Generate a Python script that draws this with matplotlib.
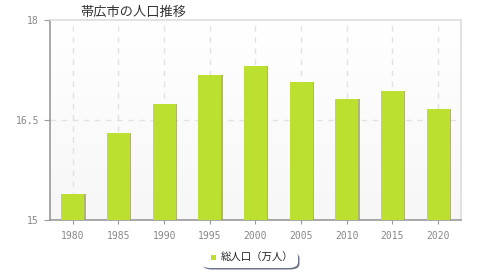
import matplotlib
matplotlib.use("Agg")
import matplotlib.pyplot as plt
import numpy as np
from matplotlib.patches import FancyBboxPatch, Rectangle
from matplotlib.colors import LinearSegmentedColormap

plt.rcParams['font.family'] = ['Noto Sans CJK JP', 'DejaVu Sans']

years = ['1980', '1985', '1990', '1995', '2000', '2005', '2010', '2015', '2020']
population = [15.39, 16.30, 16.74, 17.17, 17.31, 17.07, 16.81, 16.94, 16.66]
yticks = [15, 16.5, 18]
ytick_labels = ['15', '16.5', '18']
title = '帯広市の人口推移'
series_name = '総人口（万人）'

W, H = 480, 280
fig = plt.figure(figsize=(W/100, H/100), dpi=100)
ax = fig.add_axes([50/W, 1-220/H, 411/W, 200/H])

x = np.arange(len(years))
ax.set_xlim(-0.5, len(years)-0.5)
ax.set_ylim(15, 18)

# gradient background
grad = np.linspace(0, 1, 100).reshape(-1, 1)
cmap = LinearSegmentedColormap.from_list('bg', ['#f7f7f7', '#ffffff'])
ax.imshow(grad, aspect='auto', cmap=cmap, extent=[-0.5, len(years)-0.5, 15, 18],
          origin='lower', zorder=0)

# grid
for xi in x:
    ax.axvline(xi, color='#e2e2e2', lw=1, ls=(0, (4, 4)), zorder=1)
ax.axhline(16.5, color='#e2e2e2', lw=1, ls=(0, (4, 4)), zorder=1)

# shadow bars
ax.bar(x + 0.03, np.array(population) - 15, bottom=15, width=0.5, color='#a0a060', alpha=0.8, zorder=2)
ax.bar(x, np.array(population) - 15, bottom=15, width=0.5, color='#bbe02f', zorder=3)

ax.set_xticks(x)
ax.set_xticklabels(years, family='DejaVu Sans Mono')
ax.set_yticks(yticks)
ax.set_yticklabels(ytick_labels, family='DejaVu Sans Mono')
ax.tick_params(axis='both', colors='#999999', labelcolor='#888888', labelsize=7)
ax.tick_params(axis='x', length=3, pad=5)
ax.tick_params(axis='y', length=4, pad=4, direction='out')

for s in ['left', 'bottom']:
    ax.spines[s].set_color('#999999')
    ax.spines[s].set_linewidth(1.2)
for s in ['top', 'right']:
    ax.spines[s].set_color('#dddddd')
    ax.spines[s].set_linewidth(1.2)

fig.text(80/W, 1-12/H, title, fontsize=9.5, color='#333333', va='center', ha='left')

# legend
lx0, ly0, lw, lh = 201, 251, 97, 17
shadow = FancyBboxPatch(((lx0+1.5)/W, 1-(ly0+lh+1.5)/H), lw/W, lh/H,
                        boxstyle='round,pad=0,rounding_size=0.02', transform=fig.transFigure,
                        facecolor='#6e7488', edgecolor='none')
fig.patches.append(shadow)
box = FancyBboxPatch((lx0/W, 1-(ly0+lh)/H), lw/W, lh/H,
                     boxstyle='round,pad=0,rounding_size=0.02', transform=fig.transFigure,
                     facecolor='white', edgecolor='none')
fig.patches.append(box)
fig.patches.append(Rectangle((211/W, 1-260/H), 5/W, 5/H, transform=fig.transFigure,
                             facecolor='#bbe02f', edgecolor='none'))
fig.text(221/W, 1-258/H, series_name, fontsize=7.5, color='#222222', va='center', ha='left')

fig.savefig('out.png', dpi=100)
